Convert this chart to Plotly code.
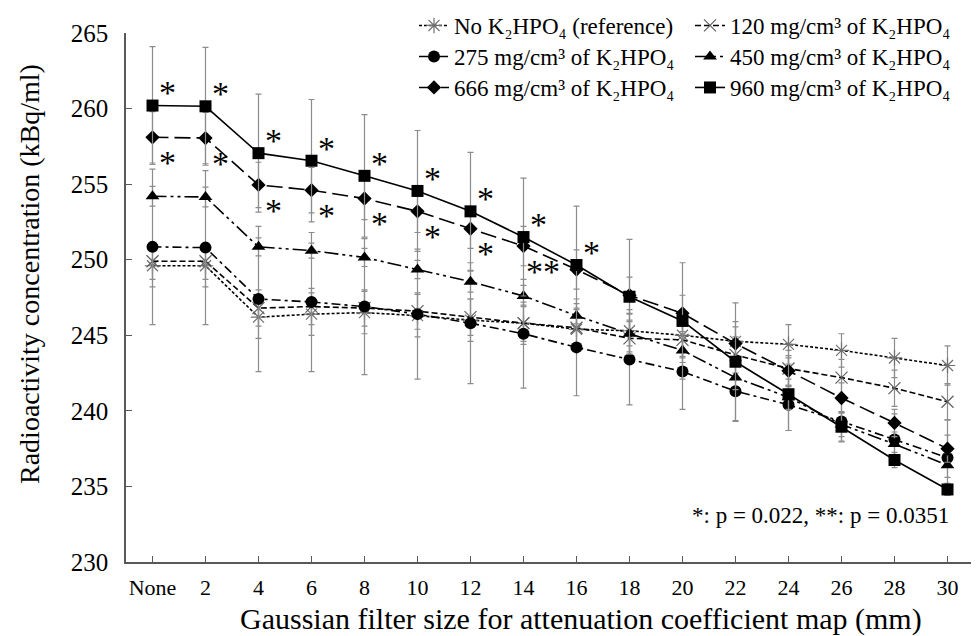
import plotly.graph_objects as go

categories = ["None", "2", "4", "6", "8", "10", "12", "14", "16", "18", "20", "22", "24", "26", "28", "30"]

ref_vals = [249.6, 249.6, 246.2, 246.4, 246.5, 246.3, 246.0, 245.8, 245.4, 245.3, 245.0, 244.6, 244.4, 244.0, 243.5, 243.0]
k120_vals = [249.9, 249.9, 246.8, 246.9, 246.8, 246.6, 246.2, 245.8, 245.5, 244.8, 244.7, 243.7, 242.8, 242.2, 241.5, 240.6]
k275_vals = [250.85, 250.8, 247.4, 247.2, 246.9, 246.4, 245.8, 245.1, 244.2, 243.4, 242.6, 241.3, 240.4, 239.3, 238.1, 236.9]
k450_vals = [254.2, 254.15, 250.85, 250.6, 250.15, 249.35, 248.55, 247.6, 246.3, 245.1, 244.0, 242.2, 240.9, 239.1, 237.8, 236.4]
k666_vals = [258.1, 258.05, 254.95, 254.6, 254.05, 253.2, 252.05, 250.9, 249.35, 247.65, 246.45, 244.45, 242.65, 240.85, 239.2, 237.5]
k960_vals = [260.2, 260.15, 257.05, 256.55, 255.55, 254.55, 253.2, 251.5, 249.65, 247.55, 245.95, 243.25, 241.1, 238.95, 236.75, 234.8]

ref_sd = [1.4, 1.4, 1.4, 1.4, 1.4, 1.4, 1.4, 1.4, 1.4, 1.4, 1.4, 1.3, 1.3, 1.1, 1.3, 1.3]
k120_sd = [1.2, 1.2, 1.2, 1.2, 1.2, 1.2, 1.2, 1.2, 1.2, 1.2, 1.2, 1.2, 1.2, 1.2, 1.2, 1.2]
k275_sd = [5.15, 5.1, 4.8, 4.6, 4.5, 4.3, 4.0, 3.6, 3.2, 3.0, 2.5, 2.0, 1.7, 1.3, 1.7, 2.5]
k450_sd = [0.65, 0.65, 0.6, 0.5, 0.6, 0.6, 0.7, 0.7, 0.8, 0.8, 0.8, 0.8, 0.8, 0.8, 0.8, 0.8]
k666_sd = [1.7, 1.7, 1.5, 1.5, 1.4, 1.4, 1.3, 1.3, 1.3, 1.2, 1.2, 1.1, 1.0, 1.0, 0.9, 0.9]
k960_sd = [3.9, 3.9, 3.9, 4.05, 4.05, 4.0, 3.9, 3.9, 3.9, 3.8, 3.85, 3.9, 2.4, 1.0, 0.5, 0.4]

sig_960 = ["*", "*", "*", "*", "*", "*", "*", "*", "*", "", "", "", "", "", "", ""]
sig_666 = ["*", "*", "*", "*", "*", "*", "*", "**", "", "", "", "", "", "", "", ""]

y_ticks = [230, 235, 240, 245, 250, 255, 260, 265]

FONT = "Liberation Serif, Times New Roman, serif"

W, H = 979, 636
ML, MR, MT, MB = 118, 13, 25, 82
PW, PH = W - ML - MR, H - MT - MB


def px_x(px):
    return (px - ML) / PW


def px_y(py):
    return (H - MB - py) / PH


LX1, LX2 = 406, 682
LY1, LY2, LY3 = -4, 27, 58

series = [
    dict(name="No K₂HPO₄ (reference)", y=ref_vals, sd=ref_sd, symbol="asterisk-open", size=13,
         mcolor="#707070", mline=1.2, dash="3px,2px", legend="legend", slot=(LX1, LY1)),
    dict(name="120 mg/cm³ of K₂HPO₄", y=k120_vals, sd=k120_sd, symbol="x-thin-open", size=12,
         mcolor="#606060", mline=1.2, dash="6px,3px", legend="legend2", slot=(LX2, LY1)),
    dict(name="275 mg/cm³ of K₂HPO₄", y=k275_vals, sd=k275_sd, symbol="circle", size=12,
         mcolor="black", mline=0, dash="9px,4px,3px,4px", legend="legend3", slot=(LX1, LY2)),
    dict(name="450 mg/cm³ of K₂HPO₄", y=k450_vals, sd=k450_sd, symbol="triangle-up", size=12,
         mcolor="black", mline=0, dash="14px,4px,3px,4px,3px,4px", legend="legend4", slot=(LX2, LY2)),
    dict(name="666 mg/cm³ of K₂HPO₄", y=k666_vals, sd=k666_sd, symbol="diamond", size=11,
         mcolor="black", mline=0, dash="16px,6px", legend="legend5", slot=(LX1, LY3)),
    dict(name="960 mg/cm³ of K₂HPO₄", y=k960_vals, sd=k960_sd, symbol="square", size=12,
         mcolor="black", mline=0, dash="solid", legend="legend6", slot=(LX2, LY3)),
]

fig = go.Figure()
legend_layouts = {}
for s in series:
    fig.add_trace(go.Scatter(
        x=categories, y=s["y"], name=s["name"], mode="lines+markers",
        line=dict(color="black", width=1.6, dash=s["dash"]),
        marker=dict(symbol=s["symbol"], size=s["size"], color=s["mcolor"],
                    line=dict(color=s["mcolor"], width=s["mline"])),
        error_y=dict(type="data", array=s["sd"], visible=True, color="#8c8c8c",
                     thickness=1.2, width=3),
        legend=s["legend"],
    ))
    lx, ly = s["slot"]
    legend_layouts[s["legend"]] = dict(
        x=px_x(lx), y=px_y(ly), xanchor="left", yanchor="top",
        bgcolor="rgba(0,0,0,0)", font=dict(family=FONT, size=23, color="black"),
        itemwidth=30, orientation="v")

annotations = []
for i, lab in enumerate(sig_960):
    if lab:
        annotations.append(dict(x=i, y=k960_vals[i] + 1.1, xref="x", yref="y",
                                text=lab, showarrow=False, xshift=15, yshift=-4,
                                font=dict(family=FONT, size=34, color="black")))
for i, lab in enumerate(sig_666):
    if lab:
        annotations.append(dict(x=i, y=k666_vals[i] - 1.4, xref="x", yref="y",
                                text=lab, showarrow=False, xshift=19 if lab == "**" else 15, yshift=-4,
                                font=dict(family=FONT, size=34, color="black")))

annotations.append(dict(x=px_x(943), y=px_y(507), xref="paper", yref="paper",
                        text="*: p = 0.022, **: p = 0.0351",
                        showarrow=False, xanchor="right", yanchor="middle",
                        font=dict(family=FONT, size=23, color="black")))
annotations.append(dict(x=px_x(21), y=px_y(266), xref="paper", yref="paper",
                        text="Radioactivity concentration (kBq/ml)", textangle=-90,
                        showarrow=False, xanchor="center", yanchor="middle",
                        font=dict(family=FONT, size=28, color="black")))
annotations.append(dict(x=px_x(573), y=px_y(611), xref="paper", yref="paper",
                        text="Gaussian filter size for attenuation coefficient map (mm)",
                        showarrow=False, xanchor="center", yanchor="middle",
                        font=dict(family=FONT, size=30, color="black")))

axis_color = "#595959"
fig.update_layout(
    width=W, height=H,
    margin=dict(l=ML, r=MR, t=MT, b=MB, autoexpand=False),
    paper_bgcolor="white", plot_bgcolor="white",
    font=dict(family=FONT, size=22, color="black"),
    showlegend=True,
    annotations=annotations,
    xaxis=dict(type="category", range=[-0.5, 15.5], showline=True, linecolor=axis_color,
               linewidth=1.5, ticks="inside", ticklen=6, tickcolor=axis_color, tickwidth=1,
               showgrid=False, zeroline=False, ticklabelstandoff=5,
               tickfont=dict(family=FONT, size=22, color="black")),
    yaxis=dict(range=[230, 265], tickvals=y_ticks, showline=True, linecolor=axis_color,
               linewidth=1.5, ticks="inside", ticklen=6, tickcolor=axis_color, tickwidth=1,
               showgrid=False, zeroline=False, ticklabelstandoff=11,
               tickfont=dict(family=FONT, size=25, color="black")),
    **legend_layouts,
)

fig.write_html("out.html")
